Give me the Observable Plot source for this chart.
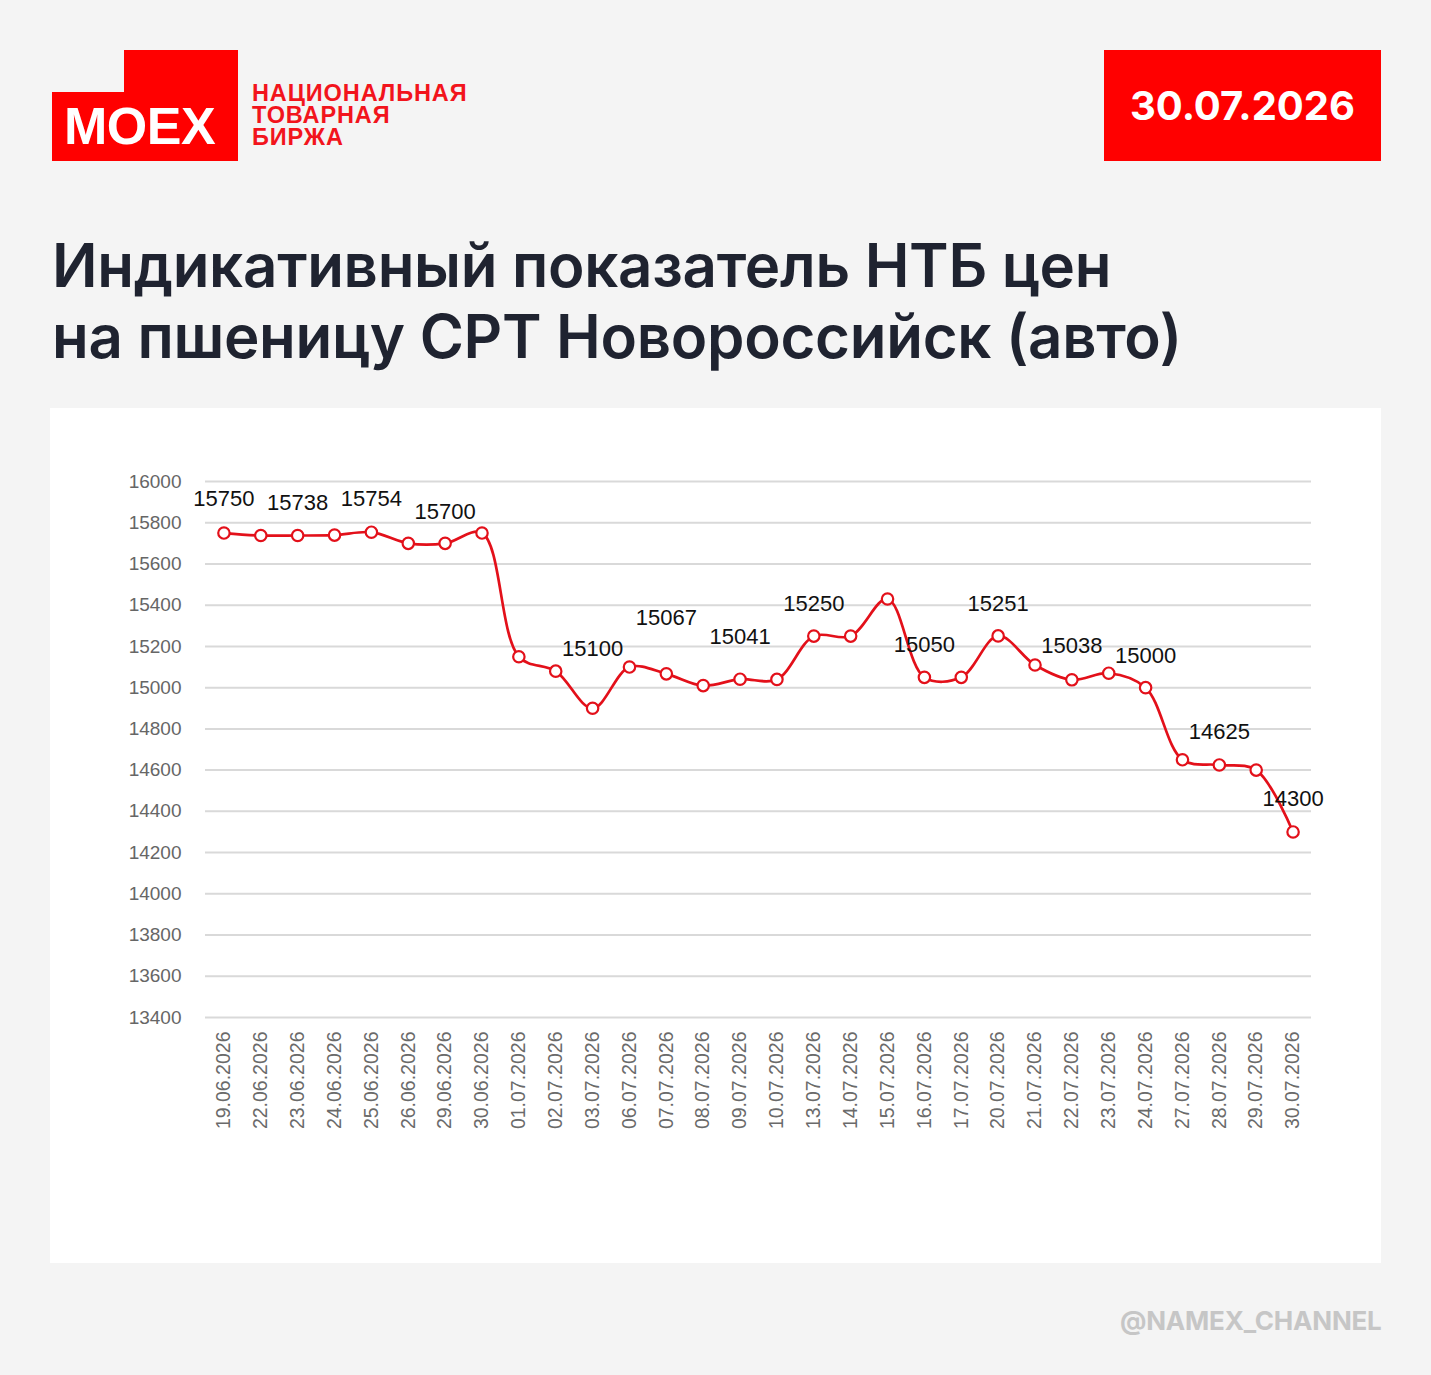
<!DOCTYPE html>
<html><head><meta charset="utf-8">
<script src="https://cdn.jsdelivr.net/npm/d3@7"></script>
<script src="https://cdn.jsdelivr.net/npm/@observablehq/plot@0.6"></script>
<style>
body{margin:0;background:#f4f4f4;width:1431px;height:1375px;position:relative;overflow:hidden;font-family:Inter,"Noto Sans",sans-serif}
.abs{position:absolute}
#logoTab{left:124px;top:50px;width:114px;height:43px;background:#ff0000}
#logoBox{left:52px;top:92px;width:186px;height:69px;background:#ff0000}
#logoText{left:64px;top:92px;height:69px;line-height:69px;color:#fff;font-family:"Liberation Sans",Arial,sans-serif;font-weight:bold;font-size:52px;letter-spacing:-0.5px}
.org{left:252px;color:#f2141c;font-family:"Liberation Sans",Arial,sans-serif;font-weight:bold;font-size:23.5px;line-height:22px;height:22px;letter-spacing:0.9px}
#dateBox{left:1104px;top:50px;width:277px;height:111px;background:#ff0000;color:#fff;font-weight:700;font-size:40px;display:flex;align-items:center;justify-content:center}
#title{left:52px;top:230px;color:#1f2330;font-weight:600;font-size:60px;line-height:71px;letter-spacing:-0.3px}
#panel{left:50px;top:408px;width:1331px;height:855px;background:#fff}
#wm{left:1120px;top:1305px;color:#c6c6c6;font-weight:700;font-size:26px;letter-spacing:-0.2px}
</style></head><body>
<div class="abs" id="logoTab"></div>
<div class="abs" id="logoBox"></div>
<div class="abs" id="logoText">MOEX</div>
<div class="abs org" style="top:82px">НАЦИОНАЛЬНАЯ</div>
<div class="abs org" style="top:104px">ТОВАРНАЯ</div>
<div class="abs org" style="top:126px">БИРЖА</div>
<div class="abs" id="dateBox">30.07.2026</div>
<div class="abs" id="title">Индикативный показатель НТБ цен<br>на пшеницу СРТ Новороссийск (авто)</div>
<div class="abs" id="panel"></div>
<div class="abs" id="wm">@NAMEX_CHANNEL</div>
<script>
const dates = ["19.06.2026","22.06.2026","23.06.2026","24.06.2026","25.06.2026","26.06.2026","29.06.2026","30.06.2026","01.07.2026","02.07.2026","03.07.2026","06.07.2026","07.07.2026","08.07.2026","09.07.2026","10.07.2026","13.07.2026","14.07.2026","15.07.2026","16.07.2026","17.07.2026","20.07.2026","21.07.2026","22.07.2026","23.07.2026","24.07.2026","27.07.2026","28.07.2026","29.07.2026","30.07.2026"];
const prices = [15750,15738,15738,15740,15754,15700,15700,15750,15150,15080,14900,15100,15067,15010,15041,15040,15250,15250,15430,15050,15050,15251,15110,15038,15070,15000,14650,14625,14600,14300];
const labelDates = ["19.06.2026","23.06.2026","25.06.2026","29.06.2026","03.07.2026","07.07.2026","09.07.2026","13.07.2026","16.07.2026","20.07.2026","22.07.2026","24.07.2026","28.07.2026","30.07.2026"];
const labelTexts = ["15750","15738","15754","15700","15100","15067","15041","15250","15050","15251","15038","15000","14625","14300"];
const labelAt = [15913,15898,15913,15854,15190,15340,15248,15408,15209,15408,15200,15156,14787,14462];
const yTicks = [13400,13600,13800,14000,14200,14400,14600,14800,15000,15200,15400,15600,15800,16000];

const data = dates.map((d, i) => ({date: d, price: prices[i]}));
const labels = labelDates.map((d, i) => ({date: d, at: labelAt[i], text: labelTexts[i]}));

const chart = Plot.plot({
  width: 1331,
  height: 855,
  marginLeft: 155,
  marginRight: 70,
  marginTop: 73,
  marginBottom: 246,
  style: {background: "transparent", fontFamily: "'Liberation Sans', Arial, sans-serif", fontSize: "19px", color: "#666", overflow: "visible"},
  x: {type: "point", domain: dates, padding: 0.5, round: false, label: null},
  y: {domain: [13400, 16000], label: null},
  marks: [
    Plot.ruleY(yTicks, {stroke: "#d9d9d9", strokeWidth: 2}),
    Plot.axisY({ticks: yTicks, tickFormat: d3.format("d"), tickSize: 0, tickPadding: 24, label: null, fontSize: 19}),
    Plot.axisX({tickRotate: -90, tickSize: 0, tickPadding: 14, label: null, fontSize: 19.5, fill: "#6a6a6a"}),
    Plot.line(data, {x: "date", y: "price", curve: "catmull-rom", stroke: "#e3101a", strokeWidth: 2.7}),
    Plot.dot(data, {x: "date", y: "price", r: 5.7, fill: "white", stroke: "#e3101a", strokeWidth: 2.2}),
    Plot.text(labels, {x: "date", y: "at", text: "text", fontSize: 22, fill: "#111"})
  ]
});
chart.style.position = "absolute";
chart.style.left = "50px";
chart.style.top = "408px";
document.body.appendChild(chart);
</script>
</body></html>
